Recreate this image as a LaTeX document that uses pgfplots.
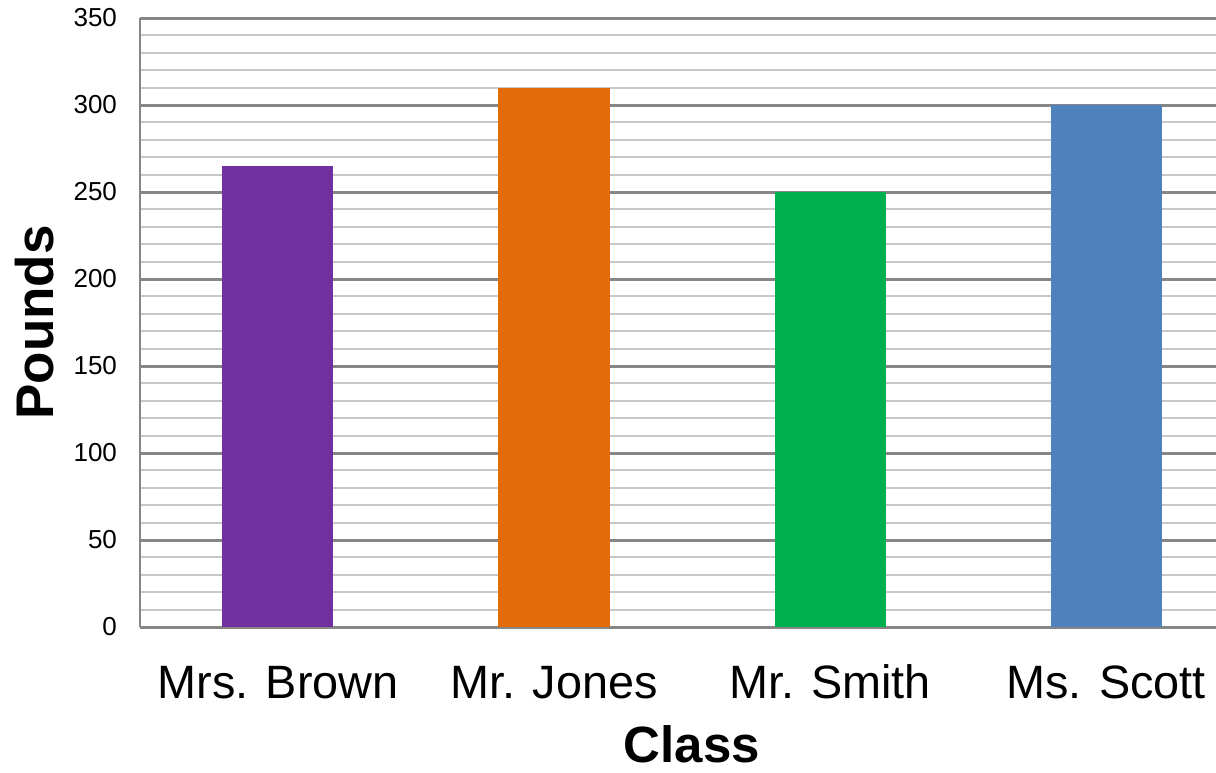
\documentclass[border=0pt]{standalone}
\usepackage{pgfplots}
\pgfplotsset{compat=1.18}
\usepackage{fontspec}
\setmainfont{Liberation Sans}
\definecolor{cpurple}{HTML}{7030A0}
\definecolor{corange}{HTML}{E36C09}
\definecolor{cgreen}{HTML}{00B050}
\definecolor{cblue}{HTML}{4F81BD}
\definecolor{majgrid}{HTML}{868686}
\definecolor{mingrid}{HTML}{C8C8C8}
\begin{document}
\begin{tikzpicture}
\clip[use as bounding box] (-70pt,-72.5pt) rectangle (538pt,313.5pt);
\begin{axis}[
  at={(0,0)}, anchor=south west,
  scale only axis,
  width=552pt, height=304.5pt,
  xmin=-0.5, xmax=3.5,
  ymin=0, ymax=350,
  ytick={0,50,...,350},
  minor ytick={0,10,...,350},
  xtick={0,1,2,3},
  xticklabels={Mrs. Brown, Mr. Jones, Mr. Smith, Ms. Scott},
  major tick length=0pt, minor tick length=0pt,
  ymajorgrids, yminorgrids,
  major grid style={draw=majgrid, line width=1.5pt},
  minor grid style={draw=mingrid, line width=1pt},
  axis x line*=bottom, axis y line*=left,
  axis line style={draw=majgrid, line width=0.8pt},
  x axis line style={-},
  y axis line style={-},
  xticklabel style={font=\fontsize{23.4}{26}\selectfont, anchor=base, yshift=-35.5pt},
  yticklabel style={font=\fontsize{13}{14}\selectfont, anchor=east, xshift=-8pt},
  /pgf/number format/assume math mode=true,
  xlabel={Class}, ylabel={Pounds},
  every axis x label/.style={at={(axis description cs:0.5,-0.193)}, anchor=center, inner sep=0pt, font=\fontsize{25.5}{30}\selectfont\bfseries},
  every axis y label/.style={at={(axis description cs:-0.0951,0.5)}, rotate=90, anchor=center, font=\fontsize{26.5}{30}\selectfont\bfseries},
  ybar, bar width=55.5pt, bar shift=0pt,
  clip=false,
]
\addplot[fill=cpurple, draw=none] coordinates {(0,265)};
\addplot[fill=corange, draw=none] coordinates {(1,310)};
\addplot[fill=cgreen, draw=none] coordinates {(2,250)};
\addplot[fill=cblue, draw=none] coordinates {(3,300)};
\end{axis}
\end{tikzpicture}
\end{document}
